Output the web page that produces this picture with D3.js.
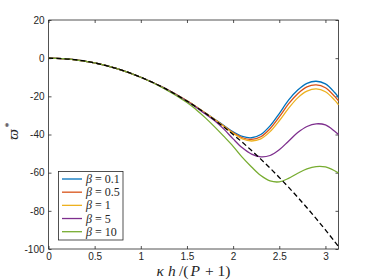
<!DOCTYPE html>
<html>
<head>
<meta charset="utf-8">
<script src="https://cdn.jsdelivr.net/npm/d3@7"></script>
<style>
  body { margin: 0; background: #fff; }
  svg { display: block; }
</style>
</head>
<body>
<svg id="chart" width="374" height="280"></svg>
<script>
var xs = [0, 0.25, 0.5, 0.75, 1, 1.25, 1.5, 1.6, 1.7, 1.8, 1.9, 2.0, 2.1, 2.2, 2.3, 2.4, 2.5, 2.6, 2.7, 2.8, 2.9, 3.0, 3.1, 3.1416];

var beta01 = [0, -0.6, -2.5, -5.6, -10, -15.6, -22.4, -25.5, -28.8, -32, -35.3, -38.6, -41, -41.7, -40, -35.5, -29, -22, -16.7, -13.2, -12.1, -13.5, -18, -20.5];
var beta05 = [0, -0.6, -2.5, -5.6, -10, -15.6, -22.4, -25.5, -28.8, -32.1, -35.5, -39, -41.7, -42.6, -41.2, -37, -30.8, -24, -18.6, -15, -14, -15.5, -20, -22.3];
var beta1  = [0, -0.6, -2.5, -5.6, -10, -15.6, -22.4, -25.5, -28.8, -32.2, -35.7, -39.3, -42.3, -43.4, -42.3, -38.5, -32.8, -26.3, -20.8, -17.3, -16.1, -17.6, -22, -24.4];
var beta5  = [0, -0.6, -2.5, -5.6, -10, -15.6, -22.6, -25.8, -29.3, -32.8, -37.2, -42.3, -47, -50.3, -51.7, -51, -48, -43.5, -39, -35.8, -34.4, -35, -38.3, -40];
var beta10 = [0, -0.6, -2.5, -5.6, -10, -15.8, -23.2, -27, -31.3, -36, -41, -46.2, -52, -57, -61.5, -64.3, -64.8, -63, -60.3, -58, -56.8, -57, -59, -60.2];
var reference = [0, -0.6, -2.5, -5.6, -10, -15.6, -22.5, -25.6, -28.9, -32.4, -36.1, -40, -44.1, -48.4, -52.9, -57.6, -62.5, -67.6, -72.9, -78.4, -84.1, -90, -96.1, -98.7];

var betas = ["0.1", "0.5", "1", "5", "10"];
var seriesValues = [beta01, beta05, beta1, beta5, beta10];
var seriesColors = ["#0072BD", "#D95319", "#EDB120", "#7E2F8E", "#77AC30"];

var xTicks = [0, 0.5, 1, 1.5, 2, 2.5, 3];
var yTicks = [20, 0, -20, -40, -60, -80, -100];

var svg = d3.select("#chart");
var margin = {left: 48.5, right: 35.5, top: 20, bottom: 31};
var width = 374 - margin.left - margin.right;
var height = 280 - margin.top - margin.bottom;

var x = d3.scaleLinear().domain([0, Math.PI]).range([margin.left, margin.left + width]);
var y = d3.scaleLinear().domain([-100, 20]).range([margin.top + height, margin.top]);

var axisColor = "#262626";
var tickFont = "Helvetica, Arial, 'Liberation Sans', sans-serif";
var mathFont = "'Liberation Serif', 'DejaVu Serif', serif";

// bottom / left axes with inward ticks
var gx = svg.append("g")
  .attr("transform", "translate(0," + (margin.top + height) + ")")
  .call(d3.axisBottom(x).tickValues(xTicks).tickSize(-3).tickPadding(4).tickFormat(d3.format("")));
var gy = svg.append("g")
  .attr("transform", "translate(" + margin.left + ",0)")
  .call(d3.axisLeft(y).tickValues(yTicks).tickSize(-3).tickPadding(4).tickFormat(function(d){ return String(d); }));
// top / right mirror ticks
var gxt = svg.append("g")
  .attr("transform", "translate(0," + margin.top + ")")
  .call(d3.axisTop(x).tickValues(xTicks).tickSize(-3).tickFormat(""));
var gyr = svg.append("g")
  .attr("transform", "translate(" + (margin.left + width) + ",0)")
  .call(d3.axisRight(y).tickValues(yTicks).tickSize(-3).tickFormat(""));

[gx, gy, gxt, gyr].forEach(function(g){
  g.selectAll(".domain").attr("stroke", axisColor).attr("stroke-width", 0.8);
  g.selectAll(".tick line").attr("stroke", axisColor).attr("stroke-width", 0.8);
  g.selectAll("text").attr("fill", axisColor).attr("font-family", tickFont).attr("font-size", 10);
});
// plain box edges, no outer tick stubs
gx.select(".domain").attr("d", "M" + margin.left + ",0H" + (margin.left + width));
gxt.select(".domain").attr("d", "M" + margin.left + ",0H" + (margin.left + width));
gy.select(".domain").attr("d", "M0," + margin.top + "V" + (margin.top + height));
gyr.select(".domain").attr("d", "M0," + margin.top + "V" + (margin.top + height));

var plot = svg.append("g");
var line = d3.line()
  .x(function(d, i){ return x(xs[i]); })
  .y(function(d){ return y(d); })
  .curve(d3.curveCatmullRom.alpha(0.5));

seriesValues.forEach(function(vals, k){
  plot.append("path")
    .datum(vals)
    .attr("d", line)
    .attr("fill", "none")
    .attr("stroke", seriesColors[k])
    .attr("stroke-width", 1.3);
});

plot.append("path")
  .datum(reference)
  .attr("d", line)
  .attr("fill", "none")
  .attr("stroke", "#000")
  .attr("stroke-width", 1.3)
  .attr("stroke-dasharray", "5,3");

// legend
var lg = svg.append("g");
lg.append("rect")
  .attr("x", 58.5).attr("y", 171.5).attr("width", 64.5).attr("height", 68.5)
  .attr("fill", "#fff").attr("stroke", axisColor).attr("stroke-width", 0.8);
var legendY = d3.scaleLinear().domain([0, 4]).range([179, 231.7]);
betas.forEach(function(b, k){
  var yy = legendY(k);
  lg.append("line")
    .attr("x1", 62).attr("x2", 82).attr("y1", yy).attr("y2", yy)
    .attr("stroke", seriesColors[k]).attr("stroke-width", 1.3);
  lg.append("text")
    .attr("x", 86).attr("y", yy + 4)
    .attr("font-family", mathFont).attr("font-style", "italic")
    .attr("font-size", 12).attr("fill", axisColor)
    .text("\u03b2");
  lg.append("text")
    .attr("x", 95).attr("y", yy + 4)
    .attr("font-family", mathFont)
    .attr("font-size", 12).attr("fill", axisColor)
    .text("= " + b);
});

// x axis label, pieces placed one after the other
var xParts = [["\u03ba", true], ["h", true], ["/(", false], ["P", true], ["+ 1)", false]];
var xGaps = [3.5, 3, 2, 4.5, 0];
var xl = svg.append("g");
var cursor = 0;
xParts.forEach(function(p, i){
  var t = xl.append("text")
    .attr("x", cursor).attr("y", 0)
    .attr("font-family", mathFont)
    .attr("font-style", p[1] ? "italic" : "normal")
    .attr("font-size", 15.5).attr("fill", axisColor)
    .text(p[0]);
  var bb = t.node().getBBox();
  cursor = bb.x + bb.width + xGaps[i];
});
xl.attr("transform", "translate(" + (margin.left + width / 2 - cursor / 2) + ",276)");

// y axis label
var yg = svg.append("g")
  .attr("transform", "translate(18," + (margin.top + height / 2) + ") rotate(-90)");
yg.append("text")
  .attr("x", 0).attr("y", 0)
  .attr("text-anchor", "middle")
  .attr("font-family", mathFont).attr("font-style", "italic")
  .attr("font-size", 15).attr("fill", axisColor)
  .text("\u03d6");
yg.append("text")
  .attr("x", 7).attr("y", -6)
  .attr("font-family", mathFont)
  .attr("font-size", 10).attr("fill", axisColor)
  .text("*");
</script>
</body>
</html>
